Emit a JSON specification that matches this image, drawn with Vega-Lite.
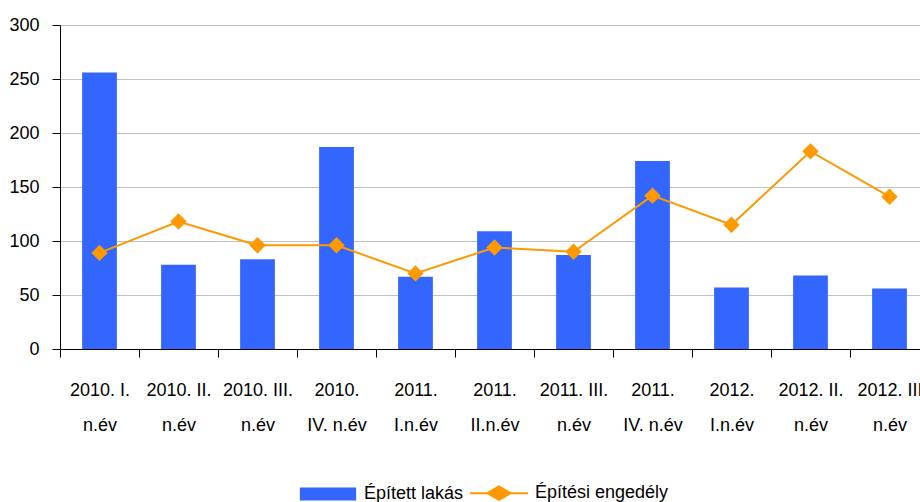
{
  "$schema": "https://vega.github.io/schema/vega-lite/v6.json",
  "width": 869,
  "height": 324,
  "autosize": {"type": "none"},
  "padding": {"left": 60, "top": 25, "right": -9, "bottom": 153},
  "background": "white",
  "config": {
    "view": {"stroke": null},
    "font": "Liberation Sans",
    "axis": {"labelFont": "Liberation Sans", "labelFontSize": 18, "labelColor": "#000000"}
  },
  "data": {
    "values": [
      {"period": "2010. I.|n.év", "lakas": 256, "engedely": 89},
      {"period": "2010. II.|n.év", "lakas": 78, "engedely": 118},
      {"period": "2010. III.|n.év", "lakas": 83, "engedely": 96},
      {"period": "2010.|IV. n.év", "lakas": 187, "engedely": 96},
      {"period": "2011.|I.n.év", "lakas": 67, "engedely": 70},
      {"period": "2011.|II.n.év", "lakas": 109, "engedely": 94},
      {"period": "2011. III.|n.év", "lakas": 87, "engedely": 90},
      {"period": "2011.|IV. n.év", "lakas": 174, "engedely": 142},
      {"period": "2012.|I.n.év", "lakas": 57, "engedely": 115},
      {"period": "2012. II.|n.év", "lakas": 68, "engedely": 183},
      {"period": "2012. III|n.év", "lakas": 56, "engedely": 141}
    ]
  },
  "encoding": {
    "x": {
      "field": "period",
      "type": "nominal",
      "sort": null,
      "scale": {"paddingInner": 0, "paddingOuter": 0},
      "axis": {
        "title": null,
        "labelAngle": 0,
        "labelExpr": "split(datum.label, '|')",
        "labelLineHeight": 35,
        "labelPadding": 24,
        "labelBaseline": "top",
        "tickBand": "extent",
        "tickSize": 8,
        "tickColor": "#000000",
        "domainColor": "#000000",
        "labelLimit": 200,
        "grid": false
      }
    }
  },
  "layer": [
    {
      "mark": {"type": "bar", "width": {"band": 0.44}},
      "encoding": {
        "y": {
          "field": "lakas",
          "type": "quantitative",
          "scale": {"domain": [0, 300]},
          "axis": {
            "title": null,
            "values": [0, 50, 100, 150, 200, 250, 300],
            "tickSize": 8,
            "labelPadding": 13,
            "tickColor": "#000000",
            "domainColor": "#000000",
            "gridColor": "#c0c0c0",
            "grid": true
          }
        },
        "color": {
          "datum": "Épített lakás",
          "scale": {"domain": ["Épített lakás", "Építési engedély"], "range": ["#3366FF", "#FF9900"]},
          "legend": {
            "title": null,
            "orient": "none",
            "direction": "horizontal",
            "legendX": 259,
            "legendY": 459,
            "labelFont": "Liberation Sans",
            "labelFontSize": 18,
            "labelColor": "#000000",
            "labelOffset": 27,
            "columnPadding": 2,
            "symbolSize": 3364,
            "encode": {
              "symbols": {
                "update": {
                  "shape": {"signal": "datum.value === 'Épített lakás' ? 'M-0.97,-0.22H0.97V0.22H-0.97Z' : 'M-1,0H-0.4L0,-0.23L0.4,0H1M0.4,0L0,0.23L-0.4,0Z'"},
                  "fill": {"signal": "datum.value === 'Épített lakás' ? '#3366FF' : '#FF9900'"},
                  "stroke": {"signal": "datum.value === 'Épített lakás' ? '#3366FF' : '#FF9900'"},
                  "strokeWidth": {"signal": "datum.value === 'Épített lakás' ? 0 : 2"},
                  "opacity": {"value": 1},
                  "fillOpacity": {"value": 1}
                }
              }
            }
          }
        }
      }
    },
    {
      "mark": {"type": "line", "strokeWidth": 2, "point": {"shape": "diamond", "size": 270, "filled": true, "opacity": 1}},
      "encoding": {
        "y": {"field": "engedely", "type": "quantitative"},
        "color": {"datum": "Építési engedély"}
      }
    }
  ]
}
